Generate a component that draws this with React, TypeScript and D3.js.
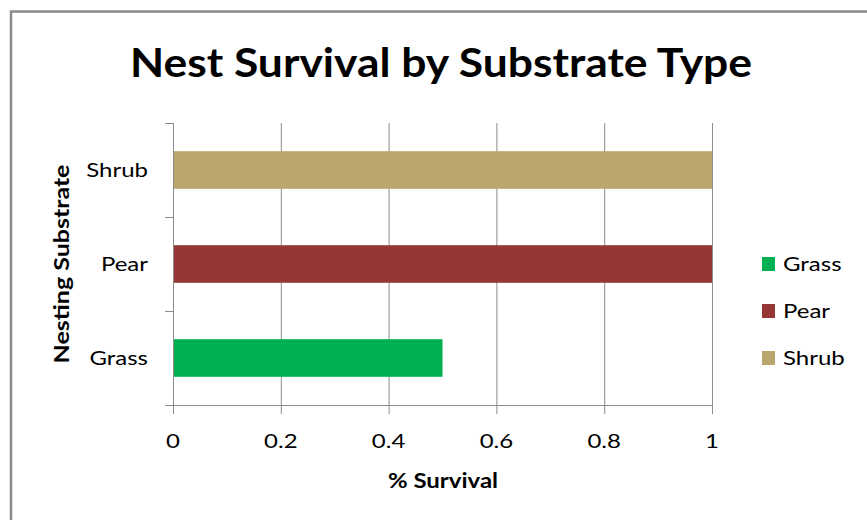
import React, { useEffect, useRef } from 'react';
import * as d3 from 'd3';

// Data
const categories: string[] = ['Grass', 'Pear', 'Shrub'];
const survival: number[] = [0.5, 1, 1];
const barColors: string[] = ['#00B050', '#953735', '#B8A66D'];
const xTicks: number[] = [0, 0.2, 0.4, 0.6, 0.8, 1];

const chartTitle = 'Nest Survival by Substrate Type';
const xAxisTitle = '% Survival';
const yAxisTitle = 'Nesting Substrate';

const FONT = 'Lato, "Open Sans", "Liberation Sans", sans-serif';
// the original (Calibri, stretched) text runs wider than Lato; widen it a little
const STRETCH = 1.2;

const App: React.FC = () => {
    const ref = useRef<HTMLDivElement>(null);

    useEffect(() => {
        if (!ref.current) return;
        ref.current.innerHTML = '';

        const width = 867;
        const height = 520;
        const plot = { left: 173, right: 712, top: 123, bottom: 405 };

        const svg = d3
            .create('svg')
            .attr('width', width)
            .attr('height', height)
            .attr('viewBox', [0, 0, width, height])
            .style('display', 'block')
            .style('background', 'white')
            .style('font-family', FONT);

        // outer frame (only left and top edges are visible)
        svg.append('path')
            .attr('d', `M11,${height} V11.5 H${width}`)
            .attr('fill', 'none')
            .attr('stroke', '#8a8a8a')
            .attr('stroke-width', 2.5);

        const x = d3.scaleLinear().domain([0, 1]).range([plot.left, plot.right]);
        // categories bottom-to-top like Excel
        const y = d3
            .scaleBand<string>()
            .domain([...categories].reverse())
            .range([plot.top, plot.bottom])
            .paddingInner(0.6)
            .paddingOuter(0.3);
        const band = d3.scaleBand<string>().domain([...categories].reverse()).range([plot.top, plot.bottom]);

        // title
        svg.append('text')
            .attr('x', 441)
            .attr('y', 77)
            .attr('text-anchor', 'middle')
            .attr('font-size', 41)
            .attr('font-weight', 'bold')
            .attr('fill', '#000')
            .attr('textLength', 622)
            .attr('lengthAdjust', 'spacingAndGlyphs')
            .text(chartTitle);

        // vertical gridlines
        svg.append('g')
            .selectAll('line')
            .data(xTicks.slice(1))
            .join('line')
            .attr('x1', (d) => x(d) + 0.5)
            .attr('x2', (d) => x(d) + 0.5)
            .attr('y1', plot.top)
            .attr('y2', plot.bottom)
            .attr('stroke', '#8c8c8c')
            .attr('stroke-width', 1);

        // bars
        svg.append('g')
            .selectAll('rect')
            .data(categories)
            .join('rect')
            .attr('x', x(0))
            .attr('y', (d) => y(d)!)
            .attr('width', (d, i) => x(survival[i]) - x(0))
            .attr('height', y.bandwidth())
            .attr('fill', (d, i) => barColors[i]);

        // y axis line and ticks
        const bounds = [plot.top, ...categories.map((c) => band(c)! + band.bandwidth())];
        svg.append('line')
            .attr('x1', plot.left + 0.5)
            .attr('x2', plot.left + 0.5)
            .attr('y1', plot.top)
            .attr('y2', plot.bottom)
            .attr('stroke', '#8c8c8c');
        svg.append('g')
            .selectAll('line')
            .data(bounds)
            .join('line')
            .attr('x1', plot.left - 8)
            .attr('x2', plot.left)
            .attr('y1', (d) => Math.round(d) + 0.5)
            .attr('y2', (d) => Math.round(d) + 0.5)
            .attr('stroke', '#8c8c8c');

        // x axis line and ticks
        svg.append('line')
            .attr('x1', plot.left - 8)
            .attr('x2', plot.right)
            .attr('y1', plot.bottom + 0.5)
            .attr('y2', plot.bottom + 0.5)
            .attr('stroke', '#8c8c8c');
        svg.append('g')
            .selectAll('line')
            .data(xTicks)
            .join('line')
            .attr('x1', (d) => x(d) + 0.5)
            .attr('x2', (d) => x(d) + 0.5)
            .attr('y1', plot.bottom)
            .attr('y2', plot.bottom + 9)
            .attr('stroke', '#8c8c8c');

        // x tick labels
        svg.append('g')
            .selectAll('text')
            .data(xTicks)
            .join('text')
            .attr('transform', (d) => `translate(${x(d)},441) scale(${STRETCH},1)`)
            .attr('dy', '0.35em')
            .attr('text-anchor', 'middle')
            .attr('font-size', 20)
            .attr('fill', '#000')
            .text((d) => (d === 0 || d === 1 ? String(d) : d.toFixed(1)));

        // category labels
        svg.append('g')
            .selectAll('text')
            .data(categories)
            .join('text')
            .attr('transform', (d) => `translate(148,${band(d)! + band.bandwidth() / 2}) scale(${STRETCH},1)`)
            .attr('dy', '0.35em')
            .attr('text-anchor', 'end')
            .attr('font-size', 20)
            .attr('fill', '#000')
            .text((d) => d);

        // axis titles
        svg.append('text')
            .attr('transform', `translate(443,481) scale(${STRETCH},1)`)
            .attr('dy', '0.35em')
            .attr('text-anchor', 'middle')
            .attr('font-size', 20)
            .attr('font-weight', 'bold')
            .attr('fill', '#000')
            .text(xAxisTitle);

        svg.append('text')
            .attr('transform', `translate(62,264) rotate(-90) scale(1.25,1)`)
            .attr('dy', '0.35em')
            .attr('text-anchor', 'middle')
            .attr('font-size', 20)
            .attr('font-weight', 'bold')
            .attr('fill', '#000')
            .text(yAxisTitle);

        // legend (Grass, Pear, Shrub from top)
        const legend = svg.append('g')
            .selectAll('g')
            .data(categories)
            .join('g')
            .attr('transform', (d, i) => `translate(762,${264 + i * 47})`);
        legend.append('rect')
            .attr('x', 0)
            .attr('y', -7)
            .attr('width', 13)
            .attr('height', 14)
            .attr('fill', (d, i) => barColors[i]);
        legend.append('text')
            .attr('transform', `translate(21,0) scale(${STRETCH},1)`)
            .attr('dy', '0.35em')
            .attr('font-size', 20)
            .attr('fill', '#000')
            .text((d) => d);

        ref.current.appendChild(svg.node()!);
    }, []);

    return <div ref={ref} style={{ position: 'absolute', left: 0, top: 0, width: 867, height: 520 }} />;
};

export default App;
